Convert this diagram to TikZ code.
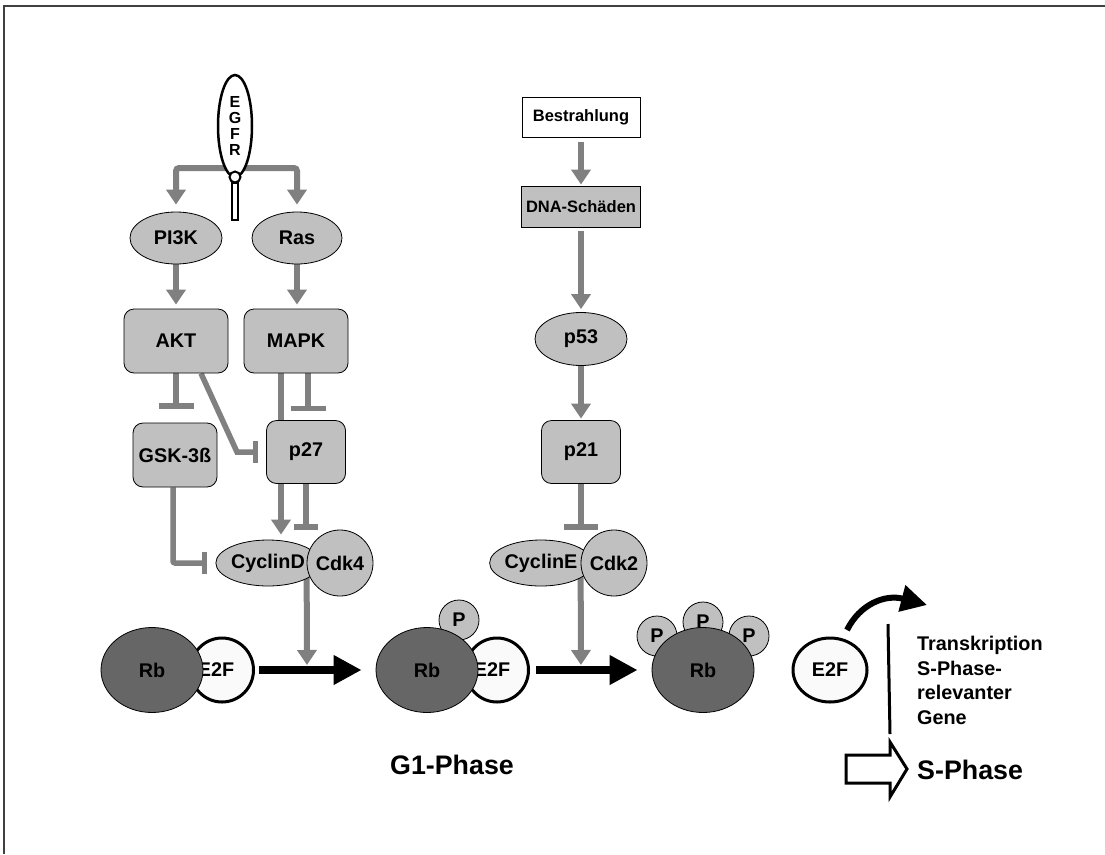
\documentclass[tikz,border=0pt]{standalone}
\usepackage{fontspec}
\setmainfont{Liberation Sans}
\usetikzlibrary{shapes.geometric,arrows.meta,backgrounds}
\definecolor{nodegray}{RGB}{192,192,192}
\definecolor{arrgray}{RGB}{128,128,128}
\definecolor{rbgray}{RGB}{102,102,102}
\definecolor{e2fwhite}{RGB}{250,250,250}
\begin{document}
\begin{tikzpicture}[x=1pt,y=-1pt,
  lbl/.style={font=\bfseries\fontsize{19.8}{24.5}\selectfont},
  big/.style={font=\bfseries\fontsize{26.8}{30}\selectfont},
  oval/.style={ellipse, draw=black, line width=0.8pt, fill=nodegray, inner sep=0pt, lbl},
  rbox/.style={rectangle, rounded corners=10pt, draw=black, line width=0.8pt, fill=nodegray, inner sep=0pt, lbl},
  sbox/.style={rectangle, draw=black, line width=0.8pt, inner sep=0pt, font=\bfseries\fontsize{16.5}{20}\selectfont},
  ball/.style={circle, draw=black, line width=0.8pt, fill=nodegray, inner sep=0pt, lbl},
  rb/.style={ellipse, draw=black, line width=0.8pt, fill=rbgray, minimum width=102pt, minimum height=85pt, inner sep=0pt, lbl},
  e2f/.style={ellipse, draw=black, line width=3pt, fill=e2fwhite, inner sep=0pt, lbl},
  act/.style={draw=arrgray, line width=6pt, -{Triangle[width=19pt,length=15pt]}},
  inh/.style={draw=arrgray, line width=5.5pt, -{Bar[width=#1]}},
  inh/.default=30pt,
  blk/.style={draw=black, line width=8pt, -{Triangle[width=28pt,length=28pt]}},
]
\useasboundingbox (0,0) rectangle (1105,854);
% frame
\draw[line width=1.5pt, black!75] (1105,6) -- (4,6) -- (4,854);

% EGFR receptor
\draw[line width=2pt, fill=white] (232,183) rectangle (238,220);
\node[ellipse, draw=black, line width=2.5pt, fill=white, minimum width=34pt, minimum height=102pt, inner sep=0pt, align=center, font=\bfseries\fontsize{16}{16}\selectfont] (egfr) at (235,126) {E\\G\\F\\R};
\node[circle, draw=black, line width=2pt, fill=white, minimum size=11pt, inner sep=0pt] (knob) at (235,177) {};
\coordinate (split) at (235,168);

% left cascade
\node[oval, minimum width=92pt, minimum height=52pt] (pi3k) at (176,238) {PI3K};
\node[oval, minimum width=90pt, minimum height=52pt] (ras) at (297,238) {Ras};
\node[rbox, minimum width=104pt, minimum height=64pt] (akt) at (176,341) {AKT};
\node[rbox, minimum width=104pt, minimum height=64pt] (mapk) at (296,341) {MAPK};
\node[rbox, minimum width=84pt, minimum height=64pt] (gsk) at (175,455) {GSK-3ß};
\node[rbox, minimum width=79pt, minimum height=63pt] (p27) at (306,452) {p27};
\node[oval, minimum width=95pt, minimum height=46pt] (cyclind) at (268,563) {CyclinD};
\node[ball, minimum size=66pt] (cdk4) at (340,563) {Cdk4};

% right cascade
\node[sbox, fill=white, minimum width=118pt, minimum height=40pt] (bestr) at (581,117) {Bestrahlung};
\node[sbox, fill=nodegray, minimum width=119pt, minimum height=41pt] (dna) at (581,207) {DNA-Schäden};
\node[oval, minimum width=92pt, minimum height=53pt] (p53) at (581,339) {p53};
\node[rbox, minimum width=79pt, minimum height=63pt] (p21) at (581,452) {p21};
\node[oval, minimum width=91pt, minimum height=46pt] (cycline) at (541,563) {CyclinE};
\node[ball, minimum size=66pt] (cdk2) at (614,563) {Cdk2};

% Rb complexes
\node[e2f, minimum width=63pt, minimum height=64pt] (e2f1) at (222,670) {\hspace*{-12pt}E2F};
\node[rb] (rb1) at (152,670) {Rb};
\node[ball, minimum size=40pt] (p1) at (459,620) {P};
\node[e2f, minimum width=63pt, minimum height=64pt] (e2f2) at (497,670) {\hspace*{-10pt}E2F};
\node[rb] (rb2) at (427,670) {Rb};
\node[ball, minimum size=40pt] (p2) at (657,636) {P};
\node[ball, minimum size=40pt] (p3) at (703,622) {P};
\node[ball, minimum size=40pt] (p4) at (749,636) {P};
\node[rb] (rb3) at (703,670) {Rb};
\node[e2f, minimum width=74pt, minimum height=64pt] (e2f3) at (830,670) {E2F};

\coordinate (m1) at (307,670);
\coordinate (m2) at (581,670);

\begin{pgfonlayer}{background}
\draw[act, rounded corners=3pt, shorten >=7pt] (split) -| (pi3k.north);
\draw[act, rounded corners=3pt, shorten >=7pt] (split) -| (ras.north);
\draw[act, shorten >=4pt] (pi3k.south) -- (akt.north);
\draw[act, shorten >=4pt] (ras.south) -- (ras.south |- mapk.north);
\draw[inh=35pt, shorten >=14pt] (akt.south) -- (akt.south |- gsk.north);
\draw[inh=35pt, shorten >=9pt] ([xshift=12pt]mapk.south) -- ([xshift=12pt]mapk.south |- p27.north);
\draw[act, shorten >=5pt] ([xshift=-15pt]mapk.south) -- ([xshift=-15pt]mapk.south |- cyclind.north);
\draw[inh=24pt] (p27.south) -- (p27.south |- cdk4.north);
\coordinate (aktbend) at (237,452);
\draw[inh=22pt, shorten >=8pt] ([xshift=25pt]akt.south) -- (aktbend) -- (p27.west);
\draw[inh=22pt, rounded corners=2pt, shorten >=8pt] ([xshift=-2pt]gsk.south) |- (cyclind.west);
\draw[act, shorten >=5pt] (cdk4.west) -- (m1);
\draw[act, shorten <=5pt, shorten >=1.5pt] (bestr.south) -- (dna.north);
\draw[act, shorten <=3pt, shorten >=3pt] (dna.south) -- (p53.north);
\draw[act, shorten >=1.5pt] (p53.south) -- (p21.north);
\draw[inh=34pt] (p21.south) -- (p21.south |- cdk2.north);
\draw[act, shorten >=5pt] (cdk2.west) -- (m2);
\end{pgfonlayer}

% black arrows
\draw[blk, shorten <=4pt, shorten >=14pt] (e2f1.east) -- (rb2.west);
\draw[blk, shorten <=6pt, shorten >=14pt] (e2f2.east) -- (rb3.west);

% transcription
\coordinate (cs) at (847,630);
\coordinate (ce) at (927,605);
\draw[line width=6pt, -{Triangle[width=26pt,length=26pt]}] (cs) .. controls (860,604) and (885,594) .. (ce);
\coordinate (vl1) at (888,624);
\coordinate (vl2) at (890,734);
\draw[line width=3pt] (vl1) -- (vl2);
\node[anchor=north west, inner sep=0pt, align=left, lbl] (transk) at (917,636) {Transkription\\S-Phase-\\relevanter\\Gene};

% S-phase hollow arrow
\draw[line width=3pt, fill=white, line join=miter] (846,755) -- (890,755) -- (890,742) -- (907,769) -- (890,797) -- (890,783) -- (846,783) -- cycle;
\node[anchor=west, inner sep=0pt, big] (sphase) at (917,770) {S-Phase};
\node[inner sep=0pt, big] (g1) at (452,765) {G1-Phase};
\end{tikzpicture}
\end{document}
